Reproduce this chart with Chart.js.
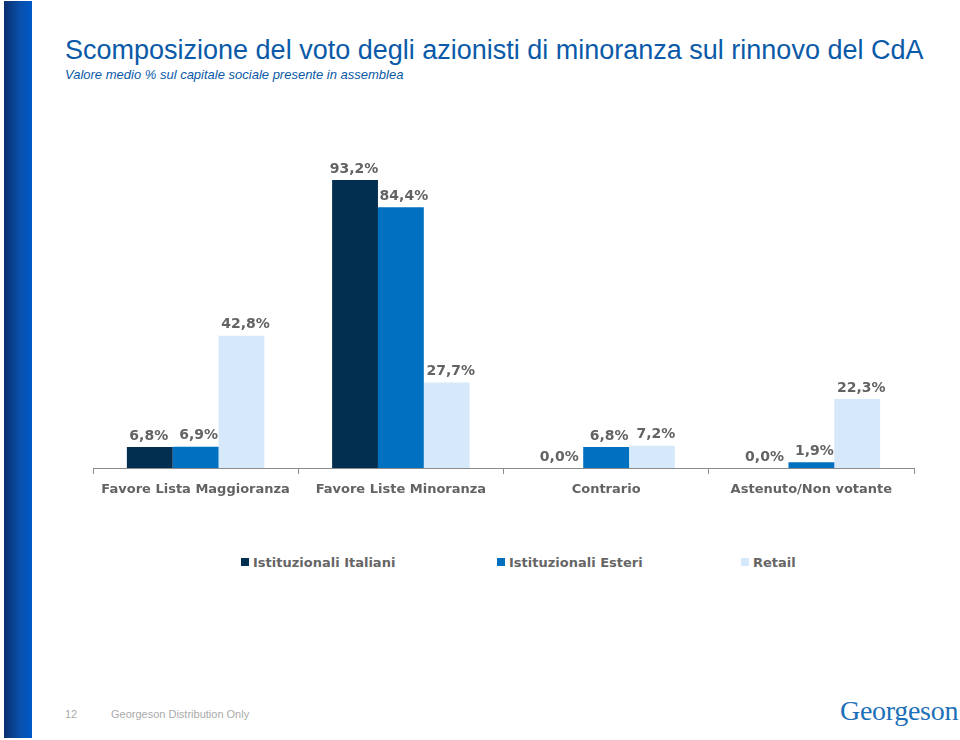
<!DOCTYPE html>
<html>
<head>
<meta charset="utf-8">
<script src="https://cdn.jsdelivr.net/npm/chart.js@4.4.1/dist/chart.umd.min.js"></script>
<style>
  body { margin: 0; background: #fff; }
  #slide { position: relative; width: 960px; height: 740px; overflow: hidden; background: #fff; }
  #sidebar { position: absolute; left: 4px; top: 1px; width: 28px; height: 737px;
    background: linear-gradient(to right, #0a2f6e, #0a4fa8 55%, #0058c8); }
  #title { position: absolute; left: 65px; top: 35px; font-family: "Liberation Sans", Arial, sans-serif;
    font-size: 27px; color: #0a5aa8; white-space: nowrap; }
  #subtitle { position: absolute; left: 65px; top: 67px; font-family: "Liberation Sans", Arial, sans-serif;
    font-size: 13px; font-style: italic; color: #0a5aa8; white-space: nowrap; }
  #chart { position: absolute; left: 0; top: 130px; }
  #legend { position: absolute; top: 555px; left: 0; width: 960px; height: 20px;
    font-family: "DejaVu Sans", Verdana, sans-serif; font-weight: bold; font-size: 13px; color: #666; }
  #legend span.item { position: absolute; top: 0; white-space: nowrap; line-height: 16px; }
  #legend span.box { display: inline-block; width: 8px; height: 8px; margin-right: 4px; vertical-align: 1px; }
  #pagenum { position: absolute; left: 65px; top: 708px; font-family: "Liberation Sans", Arial, sans-serif;
    font-size: 11px; color: #aaa; }
  #footer { position: absolute; left: 111px; top: 708px; font-family: "Liberation Sans", Arial, sans-serif;
    font-size: 11px; color: #aaa; }
  #logo { position: absolute; left: 840px; top: 695px; font-family: "Liberation Serif", "Times New Roman", serif;
    font-size: 28px; color: #1d6fb8; letter-spacing: -0.3px; }
</style>
</head>
<body>
<div id="slide">
  <div id="sidebar"></div>
  <div id="title">Scomposizione del voto degli azionisti di minoranza sul rinnovo del CdA</div>
  <div id="subtitle">Valore medio % sul capitale sociale presente in assemblea</div>
  <canvas id="chart" width="960" height="380"></canvas>
  <div id="legend"></div>
  <div id="pagenum">12</div>
  <div id="footer">Georgeson Distribution Only</div>
  <div id="logo">Georgeson</div>
</div>
<script>
// Chart data
const categories = ['Favore Lista Maggioranza', 'Favore Liste Minoranza', 'Contrario', 'Astenuto/Non votante'];
const seriesNames = ['Istituzionali Italiani', 'Istituzionali Esteri', 'Retail'];
const italiani = [6.8, 93.2, 0.0, 0.0];
const esteri = [6.9, 84.4, 6.8, 1.9];
const retail = [42.8, 27.7, 7.2, 22.3];

const colors = ['#022f50', '#0070c0', '#d5e9fa'];
const textGray = '#636363';
const boldFont = '"DejaVu Sans", Verdana, sans-serif';

// Value labels drawn above each bar (Italian decimal comma)
const valueLabels = {
    id: 'valueLabels',
    afterDatasetsDraw(chart) {
        const ctx = chart.ctx;
        const nudge = [-1, 3, 4]; // labels sit a little right in the original
        ctx.save();
        ctx.font = 'bold 14px ' + boldFont;
        ctx.fillStyle = textGray;
        ctx.textAlign = 'center';
        ctx.textBaseline = 'middle';
        chart.data.datasets.forEach((ds, i) => {
            const meta = chart.getDatasetMeta(i);
            meta.data.forEach((bar, j) => {
                const text = ds.data[j].toFixed(1).replace('.', ',') + '%';
                ctx.fillText(text, bar.x + nudge[i], bar.y - 11);
            });
        });
        ctx.restore();
    }
};

function buildChart() {
    const ctx = document.getElementById('chart').getContext('2d');
    const data = {
        labels: categories,
        datasets: [italiani, esteri, retail].map((values, i) => ({
            label: seriesNames[i],
            data: values,
            backgroundColor: colors[i],
            borderWidth: 0,
            categoryPercentage: 0.67,
            barPercentage: 1.0
        }))
    };

    new Chart(ctx, {
        type: 'bar',
        data: data,
        options: {
            responsive: false,
            animation: false,
            layout: { padding: { left: 93, right: 46, top: 29, bottom: 0 } },
            plugins: {
                legend: { display: false },
                tooltip: { enabled: false }
            },
            scales: {
                x: {
                    grid: {
                        offset: true,
                        drawOnChartArea: false,
                        drawTicks: true,
                        tickLength: 6,
                        color: '#8c8c8c'
                    },
                    border: { color: '#8c8c8c', width: 1 },
                    ticks: {
                        color: textGray,
                        padding: 8,
                        font: { family: boldFont, size: 13, weight: 'bold' }
                    },
                    afterFit(scale) { scale.height = 42; }
                },
                y: { display: false, min: 0, max: 100 }
            }
        },
        plugins: [valueLabels]
    });
}

// HTML legend below the chart
function buildLegend() {
    const legend = document.getElementById('legend');
    const starts = [241, 497, 741];
    legend.innerHTML = seriesNames.map((name, i) =>
        `<span class="item" style="left:${starts[i]}px"><span class="box" style="background:${colors[i]}"></span>${name}</span>`
    ).join('');
}

buildChart();
buildLegend();
</script>
</body>
</html>
